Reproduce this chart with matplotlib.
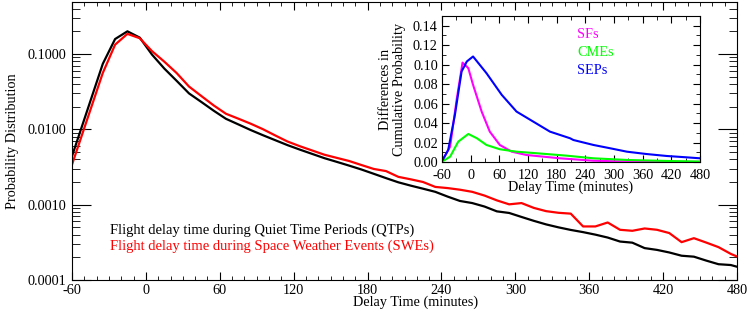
import numpy as np
import matplotlib
matplotlib.use("Agg")
import matplotlib.pyplot as plt
from matplotlib.ticker import MultipleLocator, FixedLocator, LogLocator, NullFormatter

plt.rcParams['font.family'] = ['Liberation Serif', 'DejaVu Serif']
plt.rcParams['axes.unicode_minus'] = False
plt.rcParams['font.size'] = 10.3

# main panel: probability distribution of delay time
delay = [-60, -35, -25, -15, -5] + list(range(5, 480, 10)) + [480]
qtp = [0.0044, 0.074, 0.158, 0.200, 0.165, 0.098, 0.064, 0.044, 0.030, 0.0231,
       0.0177, 0.0138, 0.01164, 0.0098, 0.00836, 0.00718, 0.00617, 0.00538, 0.00472, 0.00414,
       0.0037, 0.0033, 0.00293, 0.00257, 0.00225, 0.00198, 0.00179, 0.00163, 0.00148, 0.00128,
       0.00112, 0.00105, 0.000944, 0.000815, 0.000776, 0.000687, 0.00061, 0.000547, 0.0005, 0.000462,
       0.000432, 0.0004, 0.000366, 0.000324, 0.000313, 0.000265, 0.000251, 0.000232, 0.00021, 0.000204,
       0.000181, 0.000162, 0.000158, 0.00015]
swe = [0.0034, 0.056, 0.133, 0.185, 0.162, 0.109, 0.079, 0.0558, 0.037, 0.0277,
       0.0208, 0.0161, 0.01387, 0.0119, 0.01005, 0.0083, 0.00689, 0.00597, 0.00524, 0.0046,
       0.00418, 0.0038, 0.00336, 0.00298, 0.00279, 0.00234, 0.00217, 0.0020, 0.00172, 0.00166,
       0.00158, 0.00148, 0.00132, 0.00114, 0.00101, 0.00105, 0.000906, 0.00082, 0.00078, 0.00076,
       0.000514, 0.000514, 0.00058, 0.000464, 0.00045, 0.000483, 0.000464, 0.00042, 0.000318, 0.000359,
       0.000314, 0.000273, 0.000222, 0.000205]

# inset: differences in cumulative probability
t_sep = [-61, -47, -33, -19, -8, 5, 33, 65, 96, 131, 166, 187, 208, 215, 257, 292, 327, 368, 410, 452, 480]
sep = [0.0, 0.0124, 0.0484, 0.093, 0.1033, 0.1084, 0.0913, 0.069, 0.0518, 0.0415, 0.0312, 0.0278,
       0.0244, 0.0226, 0.0175, 0.0141, 0.0106, 0.0082, 0.0062, 0.0048, 0.0038]
t_sf = [-61, -43, -29, -17, -5, 5, 23, 40, 61, 86, 117, 187, 257, 327, 400, 480]
sf = [0.0, 0.0158, 0.0652, 0.1021, 0.0965, 0.0793, 0.0518, 0.0312, 0.0175, 0.0106, 0.0072,
      0.0038, 0.0013, 0.0005, 0.0002, 0.0001]
t_cme = [-61, -43, -26, -5, 13, 33, 61, 96, 138, 201, 257, 327, 417, 480]
cme = [0.0, 0.0055, 0.0209, 0.0288, 0.0244, 0.0175, 0.0131, 0.0106, 0.009, 0.0065, 0.0038,
       0.0021, 0.001, 0.0005]

fig = plt.figure(figsize=(7.49, 3.12), dpi=100)
ax = fig.add_axes([72/749, 32/312, 665/749, 278/312])
ax.semilogy(delay, qtp, color='black', lw=1.6)
ax.semilogy(delay, swe, color='red', lw=1.6)
ax.set_xlim(-60, 480)
ax.set_ylim(1e-4, 0.49)
ax.xaxis.set_major_locator(MultipleLocator(60))
ax.xaxis.set_minor_locator(MultipleLocator(10))
ax.yaxis.set_major_locator(FixedLocator([1e-4, 1e-3, 1e-2, 1e-1]))
ax.yaxis.set_minor_locator(LogLocator(base=10, subs=np.arange(2, 10)))
ax.yaxis.set_minor_formatter(NullFormatter())
ax.set_yticklabels(['0.0001', '0.0010', '0.0100', '0.1000'])
ax.tick_params(which='both', direction='in', top=True, right=True)
ax.tick_params(axis='y', which='major', length=14, pad=4)
ax.tick_params(axis='x', which='major', length=6, pad=3)
ax.tick_params(axis='y', which='minor', length=6)
ax.tick_params(axis='x', which='minor', length=3)
ax.set_xlabel('Delay Time (minutes)')
ax.xaxis.set_label_coords(0.517, -0.057)
ax.set_ylabel('Probability Distribution', labelpad=6)

fig.text(110/749, 1 - 230/312, 'Flight delay time during Quiet Time Periods (QTPs)',
         color='black', va='center', fontsize=10.5)
fig.text(110/749, 1 - 246/312, 'Flight delay time during Space Weather Events (SWEs)',
         color='red', va='center', fontsize=10.5)

ins = fig.add_axes([442/749, 150/312, 258/749, 146/312])
ins.plot(t_sf, sf, color='magenta', lw=1.5)
ins.plot(t_cme, cme, color='lime', lw=1.5)
ins.plot(t_sep, sep, color='blue', lw=1.5)
ins.set_xlim(-60, 480)
ins.set_ylim(0, 0.15)
ins.xaxis.set_major_locator(MultipleLocator(60))
ins.xaxis.set_minor_locator(MultipleLocator(30))
ins.yaxis.set_major_locator(FixedLocator(np.arange(0, 0.141, 0.02)))
ins.yaxis.set_minor_locator(MultipleLocator(0.01))
ins.set_yticklabels(['%.2f' % v for v in np.arange(0, 0.141, 0.02)])
ins.tick_params(which='both', direction='in', top=True, right=True)
ins.tick_params(which='major', length=5)
ins.tick_params(axis='x', which='major', pad=5)
ins.tick_params(axis='y', which='major', pad=3)
ins.tick_params(which='minor', length=3)
ins.set_xlabel('Delay Time (minutes)', labelpad=-1)
ins.set_ylabel('Differences in\nCumulative Probability', labelpad=5, linespacing=1.15)
ins.text(577/749, 1 - 34/312, 'SFs', color='magenta', transform=fig.transFigure, va='center')
ins.text(577/749, 1 - 52/312, 'CMEs', color='lime', transform=fig.transFigure, va='center')
ins.text(577/749, 1 - 70/312, 'SEPs', color='blue', transform=fig.transFigure, va='center')

fig.savefig('out.png', dpi=100)
